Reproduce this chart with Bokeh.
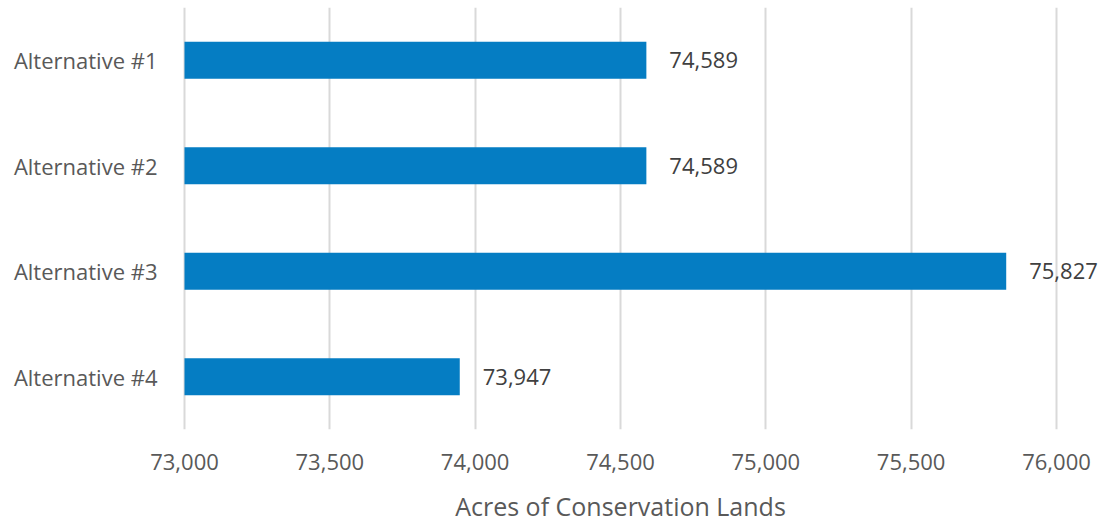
from bokeh.plotting import figure
from bokeh.models import ColumnDataSource, FactorRange, NumeralTickFormatter, FixedTicker, Range1d
from bokeh.core.properties import value
from bokeh.embed import file_html
from bokeh.resources import INLINE

categories = ["Alternative #1", "Alternative #2", "Alternative #3", "Alternative #4"]
acres = [74589, 74589, 75827, 73947]
x_ticks = [73000, 73500, 74000, 74500, 75000, 75500, 76000]
x_title = "Acres of Conservation Lands"
labels = ["{:,}".format(v) for v in acres]

FONT = "Open Sans"
src = ColumnDataSource(dict(cat=categories, acres=acres, base=[73000] * len(acres), lab=labels))

# frame spans 140..1100 px (centred on the 73000..76000 span); 73000..76000 maps to 184..1056 px
px_per_unit = 872 / 3000.0
x_start = 73000 - (184 - 140) / px_per_unit
x_end = 73000 + (1100 - 184) / px_per_unit

p = figure(width=1103, height=525, output_backend="svg", toolbar_location=None,
           y_range=FactorRange(factors=list(reversed(categories)), range_padding=0),
           x_range=Range1d(x_start, x_end),
           min_border_left=140, min_border_right=3, min_border_top=7, min_border_bottom=95)

p.hbar(y="cat", left="base", right="acres", height=0.35, source=src,
       fill_color="#057dc3", line_color=None)
p.text(x="acres", y="cat", text="lab", source=src, x_offset=23,
       text_baseline="middle", text_align="left", text_font=value(FONT),
       text_font_size="22px", text_color="#404040")

p.outline_line_color = None
p.background_fill_color = "white"
p.border_fill_color = "white"

p.xgrid.grid_line_color = "#d9d9d9"
p.xgrid.grid_line_width = 2
p.ygrid.grid_line_color = None

p.xaxis.ticker = FixedTicker(ticks=x_ticks)
p.xaxis.formatter = NumeralTickFormatter(format="0,0")
p.xaxis.axis_line_color = None
p.xaxis.major_tick_line_color = None
p.xaxis.minor_tick_line_color = None
p.xaxis.major_tick_out = 0
p.xaxis.major_tick_in = 0
p.xaxis.minor_tick_out = 0
p.xaxis.major_label_text_font = FONT
p.xaxis.major_label_text_font_size = "22px"
p.xaxis.major_label_text_color = "#595959"
p.xaxis.major_label_standoff = 24
p.xaxis.axis_label = x_title
p.xaxis.axis_label_text_font = FONT
p.xaxis.axis_label_text_font_size = "25px"
p.xaxis.axis_label_text_font_style = "normal"
p.xaxis.axis_label_text_color = "#595959"
p.xaxis.axis_label_standoff = 16

p.yaxis.axis_line_color = None
p.yaxis.major_tick_line_color = None
p.yaxis.minor_tick_line_color = None
p.yaxis.major_tick_out = 0
p.yaxis.major_tick_in = 0
p.yaxis.minor_tick_out = 0
p.yaxis.major_label_text_font = FONT
p.yaxis.major_label_text_font_size = "22px"
p.yaxis.major_label_text_color = "#595959"
p.yaxis.major_label_standoff = -17

open("out.html", "w").write(file_html(p, INLINE))
